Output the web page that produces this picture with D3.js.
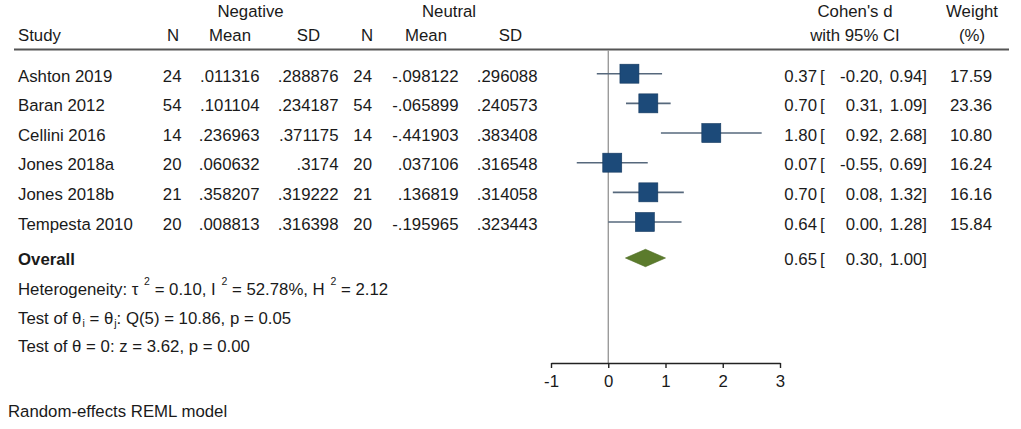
<!DOCTYPE html>
<html><head><meta charset="utf-8">
<script src="https://cdn.jsdelivr.net/npm/d3@7"></script>
<style>
body{margin:0;background:#fff}
text{font-family:"Liberation Sans",Arial,sans-serif;font-size:16.8px;fill:#1a1a1a}
</style>
</head><body>
<svg id="chart" width="1021" height="429"></svg>
<script>
// ---- data ----
const studies  = ["Ashton 2019","Baran 2012","Cellini 2016","Jones 2018a","Jones 2018b","Tempesta 2010"];
const nNeg     = [24,54,14,20,21,20];
const meanNeg  = [0.011316,0.101104,0.236963,0.060632,0.358207,0.008813];
const sdNeg    = [0.288876,0.234187,0.371175,0.3174,0.319222,0.316398];
const nNeu     = [24,54,14,20,21,20];
const meanNeu  = [-0.098122,-0.065899,-0.441903,0.037106,0.136819,-0.195965];
const sdNeu    = [0.296088,0.240573,0.383408,0.316548,0.314058,0.323443];
const cohenD   = [0.37,0.70,1.80,0.07,0.70,0.64];
const ciLow    = [-0.20,0.31,0.92,-0.55,0.08,0.00];
const ciHigh   = [0.94,1.09,2.68,0.69,1.32,1.28];
const weights  = [17.59,23.36,10.80,16.24,16.16,15.84];
const overallD = 0.65, overallLow = 0.30, overallHigh = 1.00;
const xTicks   = [-1,0,1,2,3];

// ---- setup ----
const svg = d3.select("#chart");
const x = d3.scaleLinear().domain([-1,3]).range([551,780]);
const y = d3.scaleLinear().domain([0,studies.length-1]).range([73.7,222]);
const yOverall = 258;
const base = 7.8; // baseline offset from row centre
const stata = v => String(v).replace(/^(-?)0\./,"$1.");
const rows = studies.map((s,i)=>({s,i,n1:nNeg[i],m1:meanNeg[i],s1:sdNeg[i],n2:nNeu[i],m2:meanNeu[i],s2:sdNeu[i],d:cohenD[i],lo:ciLow[i],hi:ciHigh[i],w:weights[i]}));

// ---- header ----
const hdr = [
  {t:"Negative",x:250.5,y:17.3,a:"middle"},
  {t:"Neutral",x:449,y:17.3,a:"middle"},
  {t:"Cohen's d",x:855,y:17.3,a:"middle"},
  {t:"Weight",x:972,y:17.3,a:"middle"},
  {t:"Study",x:18,y:40.7,a:"start"},
  {t:"N",x:179,y:40.7,a:"end"},
  {t:"Mean",x:251,y:40.7,a:"end"},
  {t:"SD",x:320,y:40.7,a:"end"},
  {t:"N",x:373,y:40.7,a:"end"},
  {t:"Mean",x:447,y:40.7,a:"end"},
  {t:"SD",x:522,y:40.7,a:"end"},
  {t:"with 95% CI",x:855,y:40.7,a:"middle"},
  {t:"(%)",x:972,y:40.7,a:"middle"}
];
svg.selectAll("text.hdr").data(hdr).join("text").attr("class","hdr")
  .attr("x",d=>d.x).attr("y",d=>d.y).attr("text-anchor",d=>d.a).text(d=>d.t);

svg.append("line").attr("x1",14).attr("x2",1009).attr("y1",49.5).attr("y2",49.5)
  .attr("stroke","#555").attr("stroke-width",1.8);

// ---- zero line ----
svg.append("line").attr("x1",x(0)).attr("x2",x(0)).attr("y1",50.5).attr("y2",363)
  .attr("stroke","#8a8a8a").attr("stroke-width",1.2);

// ---- table columns ----
const cols = [
  {f:r=>r.s, x:18, a:"start"},
  {f:r=>r.n1, x:181.5, a:"end"},
  {f:r=>stata(r.m1), x:259.5, a:"end"},
  {f:r=>stata(r.s1), x:338.5, a:"end"},
  {f:r=>r.n2, x:372, a:"end"},
  {f:r=>stata(r.m2), x:458.5, a:"end"},
  {f:r=>stata(r.s2), x:537.5, a:"end"},
  {f:r=>r.d.toFixed(2), x:817, a:"end"},
  {f:r=>"[", x:820, a:"start"},
  {f:r=>r.lo.toFixed(2)+",", x:883, a:"end"},
  {f:r=>r.hi.toFixed(2)+"]", x:927, a:"end"},
  {f:r=>r.w.toFixed(2), x:992, a:"end"}
];
const rowG = svg.selectAll("g.row").data(rows).join("g").attr("class","row")
  .attr("transform",r=>`translate(0,${y(r.i)+base})`);
cols.forEach(c=>{
  rowG.append("text").attr("x",c.x).attr("text-anchor",c.a).text(c.f);
});

// ---- CI lines and squares ----
svg.selectAll("line.ci").data(rows).join("line").attr("class","ci")
  .attr("x1",r=>x(r.lo)).attr("x2",r=>x(r.hi)).attr("y1",r=>y(r.i)).attr("y2",r=>y(r.i))
  .attr("stroke","#56687c").attr("stroke-width",1.6);
const sq = 19;
svg.selectAll("rect.pt").data(rows).join("rect").attr("class","pt")
  .attr("x",r=>x(r.d)-sq/2).attr("y",r=>y(r.i)-sq/2).attr("width",sq).attr("height",sq)
  .attr("fill","#1c4a79").attr("stroke","#153a60").attr("stroke-width",0.6);

// ---- overall ----
svg.append("text").attr("x",18).attr("y",yOverall+7.3).attr("font-weight","bold").text("Overall");
svg.append("path")
  .attr("d",`M${x(overallLow)},${yOverall}L${x(overallD)},${yOverall-8.7}L${x(overallHigh)},${yOverall}L${x(overallD)},${yOverall+8.7}Z`)
  .attr("fill","#5b7b2c").attr("stroke","#4f6d25").attr("stroke-width",0.6);
const ov = svg.append("g").attr("transform",`translate(0,${yOverall+7.3})`);
ov.append("text").attr("x",817).attr("text-anchor","end").text(overallD.toFixed(2));
ov.append("text").attr("x",820).text("[");
ov.append("text").attr("x",883).attr("text-anchor","end").text(overallLow.toFixed(2)+",");
ov.append("text").attr("x",927).attr("text-anchor","end").text(overallHigh.toFixed(2)+"]");

// ---- statistics text ----
function sup(t,s){
  t.append("tspan").attr("font-size","10.5px").attr("dx",1).attr("dy",-10).text(s);
  t.append("tspan").attr("dy",10).text(" ");
}
const h = svg.append("text").attr("x",18).attr("y",294.5);
h.append("tspan").text("Heterogeneity: τ ");
sup(h,"2");
h.append("tspan").text("= 0.10, I ");
sup(h,"2");
h.append("tspan").text("= 52.78%, H ");
sup(h,"2");
h.append("tspan").text("= 2.12");

const t2 = svg.append("text").attr("x",18).attr("y",323.5);
t2.append("tspan").text("Test of θ");
t2.append("tspan").attr("font-size","10.5px").attr("dx",1).attr("dy",3).text("i");
t2.append("tspan").attr("dy",-3).text(" = θ");
t2.append("tspan").attr("font-size","10.5px").attr("dx",1).attr("dy",3).text("j");
t2.append("tspan").attr("dy",-3).text(": Q(5) = 10.86, p = 0.05");

svg.append("text").attr("x",18).attr("y",352).text("Test of θ = 0: z = 3.62, p = 0.00");
svg.append("text").attr("x",8).attr("y",416.7).text("Random-effects REML model");

// ---- axis ----
const ax = svg.append("g").attr("transform","translate(0,363)")
  .call(d3.axisBottom(x).tickValues(xTicks).tickSize(5).tickSizeOuter(0).tickPadding(7).tickFormat(d=>String(d)));
ax.select(".domain").attr("stroke","#222").attr("stroke-width",1.4);
ax.selectAll(".tick line").attr("stroke","#222").attr("stroke-width",1.4);
ax.selectAll(".tick text").attr("font-size","16.8px").attr("font-family",'"Liberation Sans",Arial,sans-serif').attr("fill","#1a1a1a");
</script>
</body></html>
